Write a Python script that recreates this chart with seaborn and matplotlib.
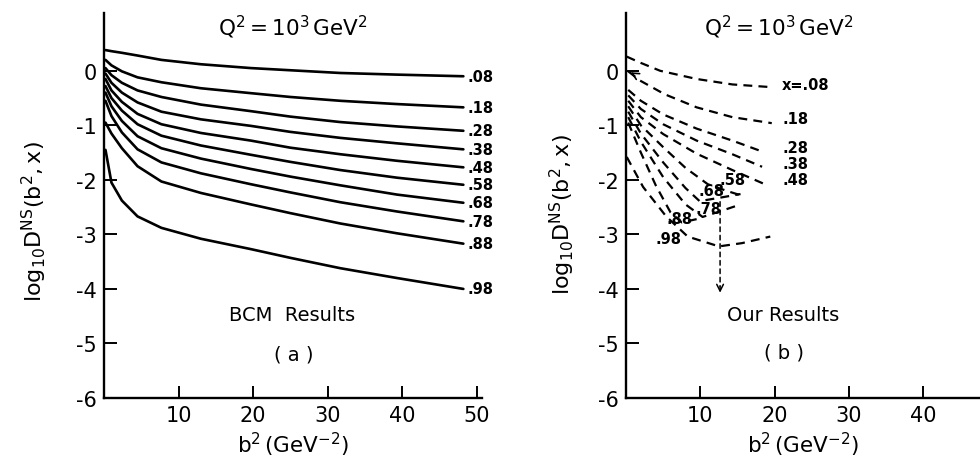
import pandas as pd
import matplotlib
matplotlib.use("Agg")
import matplotlib.pyplot as plt
import seaborn as sns

# ---- panel (a): BCM results, log10 D^NS read at these b^2 values ----
curve_names = [".08", ".18", ".28", ".38", ".48", ".58", ".68", ".78", ".88", ".98"]
bcm_b2 = [0.2, 1, 2.4, 4.5, 7.7, 13, 19.7, 25, 31.7, 39.3, 48.2]
bcm_08 = [0.38, 0.36, 0.33, 0.28, 0.20, 0.12, 0.05, 0.01, -0.04, -0.07, -0.10]
bcm_18 = [0.20, 0.10, -0.01, -0.12, -0.21, -0.32, -0.41, -0.48, -0.55, -0.61, -0.67]
bcm_28 = [0.05, -0.08, -0.22, -0.36, -0.48, -0.62, -0.74, -0.84, -0.94, -1.02, -1.10]
bcm_38 = [-0.05, -0.22, -0.40, -0.58, -0.75, -0.89, -1.01, -1.12, -1.23, -1.33, -1.44]
bcm_48 = [-0.15, -0.36, -0.57, -0.79, -0.98, -1.14, -1.28, -1.41, -1.53, -1.65, -1.77]
bcm_58 = [-0.28, -0.50, -0.73, -0.98, -1.19, -1.37, -1.54, -1.67, -1.82, -1.96, -2.09]
bcm_68 = [-0.40, -0.65, -0.92, -1.20, -1.42, -1.61, -1.80, -1.94, -2.10, -2.27, -2.42]
bcm_78 = [-0.55, -0.83, -1.13, -1.44, -1.68, -1.88, -2.08, -2.23, -2.41, -2.58, -2.76]
bcm_88 = [-0.95, -1.15, -1.42, -1.75, -2.03, -2.24, -2.45, -2.61, -2.80, -2.98, -3.17]
bcm_98 = [-1.45, -2.05, -2.38, -2.67, -2.88, -3.08, -3.27, -3.43, -3.62, -3.80, -4.00]
bcm_curves = [bcm_08, bcm_18, bcm_28, bcm_38, bcm_48, bcm_58, bcm_68, bcm_78, bcm_88, bcm_98]

# ---- panel (b): our results (dashed) ----
our_08_b2 = [0.1, 1.9, 4.6, 9.5, 14.3, 19.6]
our_08 = [0.26, 0.15, 0.00, -0.15, -0.25, -0.30]
our_18_b2 = [0.3, 1.9, 5.2, 9.5, 14.3, 19.6]
our_18 = [-0.01, -0.18, -0.43, -0.67, -0.85, -0.96]
our_28_b2 = [0.3, 2.0, 5.0, 9.5, 14.3, 18.5]
our_28 = [-0.35, -0.55, -0.80, -1.06, -1.28, -1.49]
our_38_b2 = [0.3, 2.0, 5.0, 9.5, 14.3, 18.3]
our_38 = [-0.45, -0.70, -0.98, -1.28, -1.53, -1.76]
our_48_b2 = [0.3, 2.0, 5.0, 9.5, 14.3, 18.5]
our_48 = [-0.55, -0.85, -1.16, -1.52, -1.82, -2.07]
our_58_b2 = [0.3, 2.0, 5.0, 8.0, 11.0, 13.5, 15.6]
our_58 = [-0.65, -1.00, -1.40, -1.78, -2.08, -2.20, -2.29]
our_68_b2 = [0.3, 2.0, 5.0, 8.0, 9.9, 12.5, 15.4]
our_68 = [-0.75, -1.15, -1.68, -2.15, -2.39, -2.33, -2.26]
our_78_b2 = [0.3, 2.0, 5.0, 8.0, 10.3, 12.8, 15.2]
our_78 = [-0.85, -1.30, -1.95, -2.45, -2.68, -2.57, -2.46]
our_88_b2 = [0.3, 2.0, 4.0, 6.0, 7.5, 9.5]
our_88 = [-0.95, -1.50, -2.10, -2.60, -2.78, -2.72]
our_98_b2 = [0.1, 2.3, 5.4, 8.3, 12.5, 15.6, 19.4]
our_98 = [-1.58, -2.13, -2.67, -3.04, -3.22, -3.16, -3.04]
our_b2 = [our_08_b2, our_18_b2, our_28_b2, our_38_b2, our_48_b2,
          our_58_b2, our_68_b2, our_78_b2, our_88_b2, our_98_b2]
our_curves = [our_08, our_18, our_28, our_38, our_48,
              our_58, our_68, our_78, our_88, our_98]
our_label_text = ["x=.08", ".18", ".28", ".38", ".48", ".58", ".68", ".78", ".88", ".98"]
our_label_pos = [(21.0, -0.25), (21.1, -0.88), (21.1, -1.40), (21.1, -1.70), (21.1, -2.00),
                 (12.6, -2.00), (9.7, -2.20), (9.3, -2.52), (5.5, -2.70), (3.9, -3.08)]


def long_frame(xs_list, ys_list, names):
    rows = []
    for xs, ys, name in zip(xs_list, ys_list, names):
        for b2, v in zip(xs, ys):
            rows.append({"b2": b2, "logD": v, "x": name})
    return pd.DataFrame(rows)


bcm_df = long_frame([bcm_b2] * len(bcm_curves), bcm_curves, curve_names)
our_df = long_frame(our_b2, our_curves, curve_names)

sns.set_theme(style="ticks")
plt.rcParams["font.family"] = ["DejaVu Sans"]
plt.rcParams["mathtext.default"] = "regular"
plt.rcParams["axes.unicode_minus"] = False
plt.rcParams["text.color"] = "black"
plt.rcParams["axes.labelcolor"] = "black"

fig = plt.figure(figsize=(9.8, 4.6), dpi=100)
ax_a = fig.add_axes([104 / 980, 1 - 399 / 460, 378 / 980, 385 / 460])
ax_b = fig.add_axes([626 / 980, 1 - 399 / 460, 354 / 980, 385 / 460])

sns.lineplot(data=bcm_df, x="b2", y="logD", units="x", estimator=None,
             color="black", lw=1.9, ax=ax_a)
sns.lineplot(data=our_df, x="b2", y="logD", units="x", estimator=None,
             color="black", lw=1.6, linestyle=(0, (4, 2.8)), ax=ax_b)

ylabel = r"$log_{10}D^{NS}(b^{2},x)$"
xlabel = r"$b^{2}\,(GeV^{-2})$"
for ax, xmax, xt in [(ax_a, 50.7, [10, 20, 30, 40, 50]), (ax_b, 47.6, [10, 20, 30, 40])]:
    sns.despine(ax=ax)
    ax.set_xlim(0, xmax)
    ax.set_ylim(-6, 1.06)
    ax.set_xticks(xt)
    ax.set_yticks(range(-6, 1))
    ax.tick_params(direction="in", length=9, width=1.4, labelsize=15, pad=5, colors="black")
    for s in ("left", "bottom"):
        ax.spines[s].set_linewidth(1.7)
        ax.spines[s].set_color("black")
    ax.set_xlabel(xlabel, fontsize=15.5)
    ax.set_ylabel(ylabel, fontsize=16)
    ax.xaxis.set_label_coords(0.5, -0.118)
    ax.xaxis.label.set_va("center")
    ax.yaxis.label.set_va("center")
ax_a.yaxis.set_label_coords(-0.183, 0.46)
ax_b.yaxis.set_label_coords(-0.181, 0.478)

# panel (a) texts
ax_a.text(25.3, 0.82, r"$Q^{2}=10^{3}\,GeV^{2}$", ha="center", va="center", fontsize=15.5)
ax_a.text(25.2, -4.46, "BCM  Results", ha="center", va="center", fontsize=14)
ax_a.text(25.5, -5.19, "( a )", ha="center", va="center", fontsize=14)
for name, ys in zip(curve_names, bcm_curves):
    ax_a.text(bcm_b2[-1] + 0.5, ys[-1], name, ha="left", va="center",
              fontsize=10.5, fontweight="bold")

# panel (b) texts
ax_b.text(20.5, 0.82, r"$Q^{2}=10^{3}\,GeV^{2}$", ha="center", va="center", fontsize=15.5)
ax_b.text(21.1, -4.47, "Our Results", ha="center", va="center", fontsize=14)
ax_b.text(21.2, -5.16, "( b )", ha="center", va="center", fontsize=14)
for txt, (px, py) in zip(our_label_text, our_label_pos):
    ax_b.text(px, py, txt, ha="left", va="center", fontsize=10.5, fontweight="bold")

# dashed pointer down to "Our Results" and small arrowhead on the .18 curve
ax_b.annotate("", xy=(12.65, -4.0), xytext=(12.65, -2.35),
              arrowprops=dict(arrowstyle="-", lw=1.1, ls=(0, (3, 2.5)), color="black"))
ax_b.annotate("", xy=(12.65, -4.12), xytext=(12.65, -3.9),
              arrowprops=dict(arrowstyle="->", lw=1.1, color="black", mutation_scale=12))
ax_b.annotate("", xy=(0.3, 0.0), xytext=(1.3, -0.08),
              arrowprops=dict(arrowstyle="->", lw=1.2, color="black", mutation_scale=12))

fig.savefig("out.png", dpi=100)
